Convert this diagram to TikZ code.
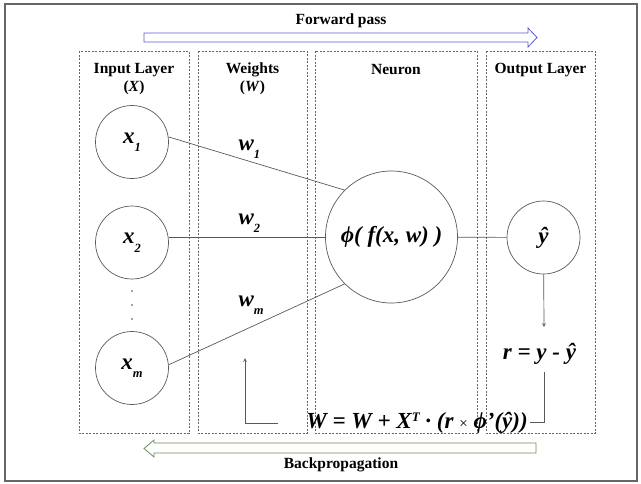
\documentclass[tikz,border=0pt]{standalone}
\usepackage{fontspec}
\setmainfont{Liberation Serif}
\usetikzlibrary{calc,positioning}

\newcommand{\lowsub}[1]{\raisebox{-8.5pt}{\fontsize{12.5}{12.5}\selectfont #1}}
\newcommand{\highsup}[1]{\raisebox{7pt}{\fontsize{13}{13}\selectfont #1}}

\begin{document}
\begin{tikzpicture}[x=1pt,y=-1pt,
    layerbox/.style={draw=black!60,dash pattern=on 2pt off 1.5pt,line width=0.6pt},
    unit/.style={circle,draw=black!65,line width=0.7pt,inner sep=0pt},
    head/.style={font=\fontsize{15.5}{18}\selectfont\bfseries,align=center},
    sym/.style={font=\fontsize{23}{23}\selectfont\bfseries\itshape},
    link/.style={draw=black!65,line width=0.7pt}]
  \useasboundingbox (0,0) rectangle (641,483);
  \draw[black!60,line width=1.5pt] (5,4) rectangle (637,481);

  \draw[layerbox] (79,51) rectangle (189,433);
  \draw[layerbox] (198,51) rectangle (307,433);
  \draw[layerbox] (315,51) rectangle (477,433);
  \draw[layerbox] (486,51) rectangle (595,433);

  \node[head] (fwdlab) at (341,21) {Forward pass};
  \node[head] (bcklab) at (341,465) {Backpropagation};
  \node[head] (inlab) at (134,79) {Input Layer\\(\textit{X})};
  \node[head] (wlab) at (252.5,79) {Weights\\(\textit{W})};
  \node[head] (nlab) at (396,70) {Neuron};
  \node[head] (outlab) at (540.5,70) {Output Layer};

  \draw[draw={rgb,255:red,90;green,90;blue,205},line width=0.8pt]
    (144,33) -- (528,33) -- (528,28) -- (537,37.5) -- (528,47) -- (528,42) -- (144,42) -- cycle;
  \draw[draw={rgb,255:red,110;green,140;blue,90},line width=0.8pt]
    (536,443) -- (154,443) -- (154,440) -- (144,448.5) -- (154,457) -- (154,453) -- (536,453) -- cycle;

  \node[unit,sym,minimum size=73pt] (x1) at (132,142) {x\lowsub{1}};
  \node[unit,sym,minimum size=73pt] (x2) at (132,242.5) {x\lowsub{2}};
  \node[unit,sym,minimum size=73pt] (xm) at (132,368) {x\lowsub{m}};
  \foreach \d in {291,305,319}
    \fill[black!70] (132,\d) circle (0.8pt);

  \node[unit,sym,minimum size=132pt] (neuron) at (391.5,237) {ϕ( f(x, w) )};
  \node[unit,sym,minimum size=73pt] (yhat) at (543.5,237.5) {ŷ};

  \node[sym,anchor=base west] (w1) at (235,150) {w\lowsub{1}};
  \node[sym,anchor=base west] (w2) at (235,224) {w\lowsub{2}};
  \node[sym,anchor=base west] (wm) at (235,306) {w\lowsub{m}};

  \node[sym,anchor=base] (resid) at (539.5,359) {r = y - ŷ};
  \node[sym,anchor=base,inner sep=2pt] (update) at (417,428)
    {W = W + X\highsup{T} · (r {\fontsize{15}{15}\selectfont\mdseries\upshape ×} ϕ’(ŷ))};

  \coordinate (rtop) at (544,327);
  \coordinate (rbot) at (544,372);
  \coordinate (wfoot) at (278,423);
  \coordinate (wtip) at (245,358);

  \draw[link] (x1.8) -- (neuron.135);
  \draw[link] (x2.east |- neuron) -- (neuron.west);
  \draw[link] (xm.5) -- (neuron.225);
  \draw[link] (neuron) -- (yhat);
  \draw[link,-stealth] (yhat) -- (rtop);
  \draw[link] (rbot) |- (update.east);
  \draw[link,-stealth] (wfoot) -| (wtip);
\end{tikzpicture}
\end{document}
